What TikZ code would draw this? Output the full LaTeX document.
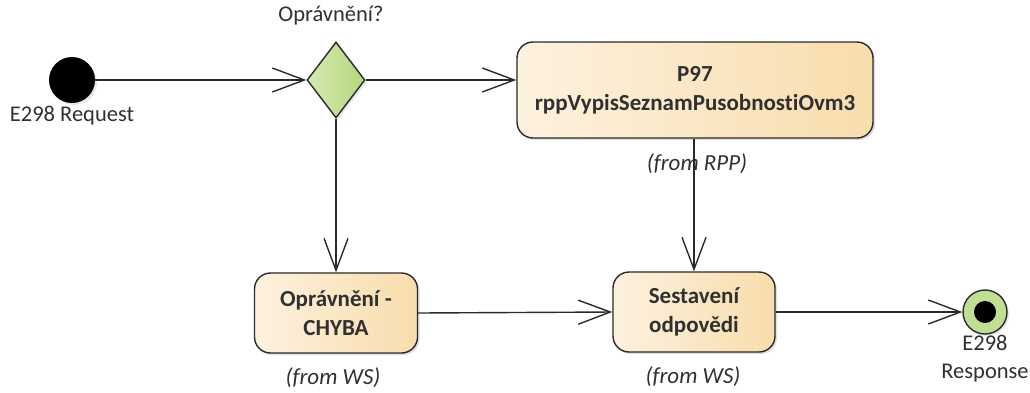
\documentclass[tikz,border=0pt]{standalone}
\usepackage{fontspec}
\setmainfont[Ligatures=NoCommon]{Carlito}
\usetikzlibrary{shapes.geometric,arrows.meta,shadows}
\definecolor{boxL}{HTML}{FDF1DF}
\definecolor{boxR}{HTML}{F8DDAC}
\definecolor{grnL}{HTML}{D6EAB4}
\definecolor{grnR}{HTML}{B3D67C}
\definecolor{edgec}{HTML}{2A2A2A}
\definecolor{txt}{HTML}{303030}
\tikzset{
  x=1pt,y=-1pt,
  actbox/.style={draw=edgec,line width=1.4pt,rounded corners=16pt,left color=boxL,right color=boxR,
    align=center,font=\fontsize{23}{29}\selectfont\bfseries,text=txt,inner sep=0pt,
    drop shadow={shadow xshift=2pt,shadow yshift=-2pt,opacity=0.25}},
  lbl/.style={font=\fontsize{22.5}{28}\selectfont,text=txt,inner sep=0pt,align=center},
  fromlbl/.style={font=\fontsize{23}{28}\selectfont\itshape,text=txt,inner sep=0pt},
  flow/.style={draw=edgec,line width=1.4pt,-{Straight Barb[length=32pt,width=24pt,line width=1.4pt]}},
}
\begin{document}
\begin{tikzpicture}
\useasboundingbox (0,0) rectangle (1030,392);
% start
\node[circle,fill=black,minimum size=46pt,inner sep=0pt,
  drop shadow={shadow xshift=2pt,shadow yshift=-2pt,opacity=0.2}] (start) at (72,80) {};
\node[lbl] (startlbl) at (72,116) {E298 Request};
% decision
\node[diamond,draw=edgec,line width=1.4pt,left color=grnL,right color=grnR,
  minimum width=58pt,minimum height=76pt,inner sep=0pt,
  drop shadow={shadow xshift=2pt,shadow yshift=-2pt,opacity=0.2}] (dec) at (336,80) {};
\node[lbl] (declbl) at (331,16) {Oprávnění?};
% P97
\node[actbox,minimum width=356pt,minimum height=96pt] (p97) at (695,90)
  {P97\\rppVypisSeznamPusobnostiOvm3};
\node[fromlbl] (p97from) at (697,164) {(from RPP)};
% chyba
\node[actbox,minimum width=163pt,minimum height=80pt] (chyba) at (336,313)
  {Oprávnění -\\CHYBA};
\node[fromlbl] (chybafrom) at (333,378) {(from WS)};
% sestaveni
\node[actbox,minimum width=162pt,minimum height=80pt] (sest) at (694,312)
  {Sestavení\\odpovědi};
\node[fromlbl] (sestfrom) at (693,377) {(from WS)};
% end
\node[circle,draw=edgec,line width=1.4pt,fill=grnR!80!white,minimum size=44pt,inner sep=0pt,
  drop shadow={shadow xshift=2pt,shadow yshift=-2pt,opacity=0.2}] (end) at (985,312) {};
\node[circle,fill=black,minimum size=22pt,inner sep=0pt] (endin) at (end) {};
\node[lbl] (endlbl) at (985,359) {E298\\Response};
% flows
\draw[flow] (start) -- (dec.west);
\draw[flow] (dec.east) -- (p97.west |- dec.east);
\draw[flow] (dec.south) -- (chyba.north);
\draw[flow] (p97.south -| sest.north) -- (sest.north);
\draw[flow] (chyba.east) -- (sest.west);
\draw[flow] (sest.east) -- (end.west);
\end{tikzpicture}
\end{document}
